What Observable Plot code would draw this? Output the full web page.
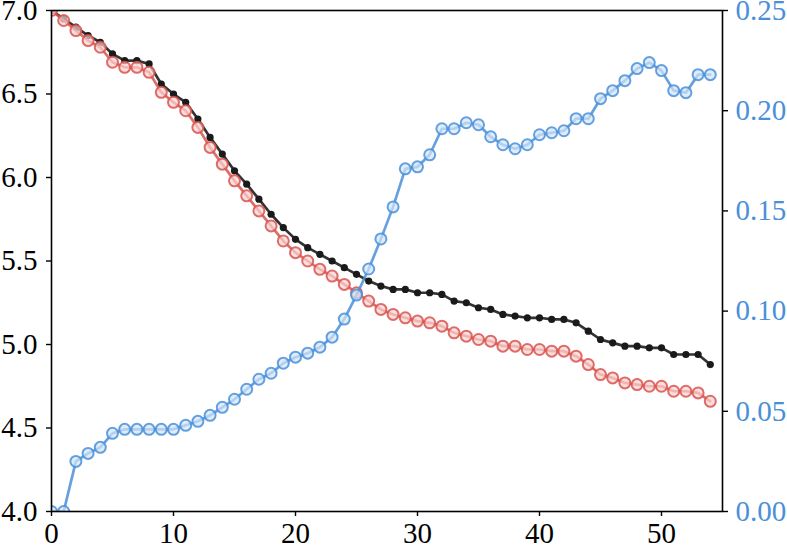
<!DOCTYPE html>
<html>
<head>
<meta charset="utf-8">
<script src="https://cdn.jsdelivr.net/npm/d3@7"></script>
<script src="https://cdn.jsdelivr.net/npm/@observablehq/plot@0.6"></script>
<style>
  html, body { margin: 0; padding: 0; background: #fff; }
</style>
</head>
<body>
<div id="chart"></div>
<script>
// Left axis series
const blackSeries = [7.00,6.95,6.90,6.85,6.81,6.74,6.70,6.70,6.68,6.56,6.50,6.45,6.35,6.24,6.14,6.04,5.96,5.87,5.78,5.70,5.63,5.58,5.54,5.50,5.46,5.42,5.38,5.35,5.33,5.33,5.31,5.31,5.30,5.26,5.25,5.22,5.21,5.18,5.17,5.16,5.16,5.15,5.15,5.13,5.08,5.03,5.01,4.99,4.99,4.98,4.98,4.94,4.94,4.94,4.88];
const redSeries = [7.00,6.94,6.88,6.82,6.78,6.69,6.66,6.66,6.63,6.51,6.45,6.40,6.30,6.18,6.08,5.98,5.89,5.80,5.71,5.62,5.55,5.50,5.45,5.41,5.36,5.31,5.26,5.21,5.18,5.16,5.14,5.13,5.11,5.07,5.05,5.03,5.02,4.99,4.99,4.97,4.97,4.96,4.96,4.93,4.88,4.82,4.80,4.77,4.76,4.75,4.75,4.72,4.72,4.71,4.66];
// Right axis series
const blueSeries = [0.000,0.000,0.025,0.029,0.032,0.039,0.041,0.041,0.041,0.041,0.041,0.043,0.045,0.048,0.052,0.056,0.061,0.066,0.069,0.074,0.077,0.079,0.082,0.087,0.096,0.108,0.121,0.136,0.152,0.171,0.172,0.178,0.191,0.191,0.194,0.193,0.187,0.183,0.181,0.183,0.188,0.189,0.190,0.196,0.196,0.206,0.210,0.215,0.221,0.224,0.220,0.210,0.209,0.218,0.218];
const steps = d3.range(blackSeries.length);

const xTicks = [0, 10, 20, 30, 40, 50];
const leftTicks = [4.0, 4.5, 5.0, 5.5, 6.0, 6.5, 7.0];
const rightTicks = [0.00, 0.05, 0.10, 0.15, 0.20, 0.25];
const xDomain = [0, 55];
const leftDomain = [4, 7];
const rightDomain = [0, 0.25];

// map right-axis values onto the left (plot) scale
const toLeft = v => leftDomain[0] + (v - rightDomain[0]) / (rightDomain[1] - rightDomain[0]) * (leftDomain[1] - leftDomain[0]);
const fromLeft = v => rightDomain[0] + (v - leftDomain[0]) / (leftDomain[1] - leftDomain[0]) * (rightDomain[1] - rightDomain[0]);

const rows = steps.map(i => ({step: i, black: blackSeries[i], red: redSeries[i], blue: blueSeries[i]}));

const BLUE = "#4a90d9";
const RED = "#d9534f";

const chart = Plot.plot({
  width: 787,
  height: 545,
  marginLeft: 51,
  marginRight: 65,
  marginTop: 10,
  marginBottom: 34,
  style: {fontFamily: "'Liberation Serif', serif", fontSize: "29px", background: "#fff", color: "#000"},
  x: {domain: xDomain},
  y: {domain: leftDomain},
  marks: [
    Plot.line(rows, {x: "step", y: "black", stroke: "#333", strokeWidth: 2.7, clip: "frame"}),
    Plot.dot(rows, {x: "step", y: "black", r: 3.6, fill: "#1a1a1a", stroke: "none", clip: "frame"}),
    Plot.line(rows, {x: "step", y: "red", stroke: RED, strokeOpacity: 0.85, strokeWidth: 2.7, clip: "frame"}),
    Plot.dot(rows, {x: "step", y: "red", r: 5.5, fill: "#f6d3d1", fillOpacity: 0.7, stroke: RED, strokeOpacity: 0.85, strokeWidth: 2, clip: "frame"}),
    Plot.line(rows, {x: "step", y: d => toLeft(d.blue), stroke: BLUE, strokeOpacity: 0.85, strokeWidth: 2.7, clip: "frame"}),
    Plot.dot(rows, {x: "step", y: d => toLeft(d.blue), r: 5.5, fill: "#d3e4f7", fillOpacity: 0.7, stroke: BLUE, strokeOpacity: 0.85, strokeWidth: 2, clip: "frame"}),
    Plot.frame({stroke: "#000", strokeWidth: 1.6}),
    Plot.axisX({ticks: xTicks, tickSize: 5, tickPadding: 6, tickFormat: d => String(d), stroke: "#000", strokeWidth: 1.4, label: null}),
    Plot.axisY({ticks: leftTicks, tickSize: 5, tickPadding: 9, tickFormat: d => d.toFixed(1), stroke: "#000", strokeWidth: 1.4, label: null}),
    Plot.axisY(rightTicks.map(toLeft), {anchor: "right", tickSize: 5, tickPadding: 8, tickFormat: d => fromLeft(d).toFixed(2), stroke: "#000", fill: BLUE, strokeWidth: 1.4, label: null})
  ]
});
document.getElementById("chart").appendChild(chart);
</script>
</body>
</html>
